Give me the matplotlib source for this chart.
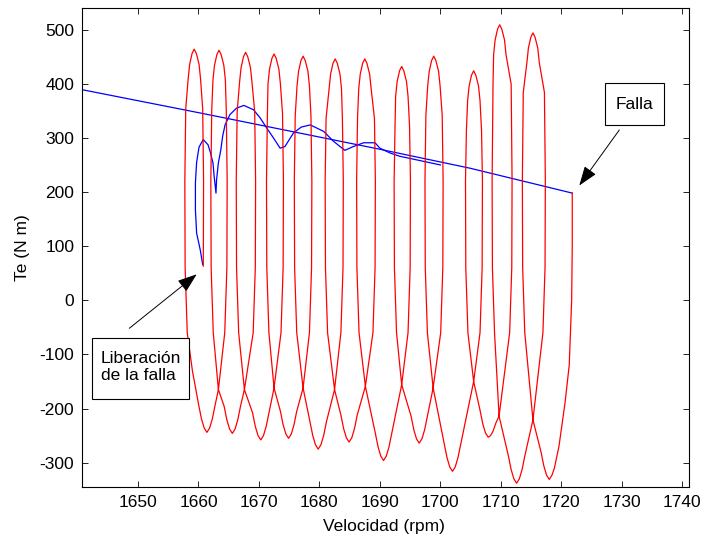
import matplotlib
matplotlib.use("Agg")
import matplotlib.pyplot as plt
from matplotlib.patches import Rectangle, FancyArrowPatch

plt.rcParams['font.family'] = ['Liberation Sans', 'DejaVu Sans']
plt.rcParams['font.size'] = 12.5
plt.rcParams['axes.unicode_minus'] = False

# Te (N m) vs speed (rpm): steady-state line before the fault
prefault_rpm = [1640.8, 1660.3, 1690.0, 1704.9, 1721.8]
prefault_te = [389, 346, 279, 244, 198]

# during the fault (red), from the fault instant down to the clearing point;
# one row per swing (trough -> peak -> next trough)
red_rpm = [
    1721.8, 1721.8, 1721.7, 1721.3, 1720.6, 1719.6, 1718.85, 1718.45, 1718.0,
    1717.55, 1717.1, 1716.65, 1715.3, 1713.95, 1713.6, 1713.55, 1713.7, 1714.3, 1714.55, 1714.95, 1715.3,
    1715.65, 1716.1, 1716.35, 1717.2, 1717.35, 1717.3, 1716.95, 1715.3, 1713.95, 1713.5, 1713.05, 1712.6,
    1712.15, 1711.7, 1711.25, 1709.7, 1708.95, 1708.6, 1708.55, 1708.7, 1708.8, 1709.05, 1709.45, 1709.8,
    1710.15, 1710.6, 1710.85, 1711.7, 1711.85, 1711.8, 1711.45, 1709.7, 1709.2, 1708.7, 1708.3, 1707.9,
    1707.45, 1707.0, 1706.55, 1705.5, 1704.55, 1704.2, 1704.15, 1704.3, 1704.5, 1704.75, 1705.15, 1705.5,
    1705.85, 1706.3, 1706.55, 1706.8, 1706.95, 1706.9, 1706.55, 1705.5, 1703.35, 1702.9, 1702.45, 1702.0,
    1701.55, 1701.1, 1700.65, 1698.8, 1697.85, 1697.5, 1697.45, 1697.6, 1697.9, 1698.15, 1698.55, 1698.9,
    1699.25, 1699.7, 1699.95, 1700.3, 1700.45, 1700.4, 1700.05, 1698.8, 1697.85, 1697.4, 1696.95, 1696.5,
    1696.05, 1695.6, 1695.15, 1693.6, 1692.75, 1692.4, 1692.35, 1692.5, 1692.6, 1692.85, 1693.25, 1693.6,
    1693.95, 1694.4, 1694.65, 1694.9, 1695.05, 1695.0, 1694.65, 1693.6, 1691.95, 1691.5, 1691.05, 1690.6,
    1690.15, 1689.7, 1689.25, 1687.6, 1686.55, 1686.2, 1686.15, 1686.3, 1686.5, 1686.75, 1687.15, 1687.5,
    1687.85, 1688.3, 1688.55, 1689.1, 1689.25, 1689.2, 1688.85, 1687.6, 1686.25, 1685.8, 1685.35, 1684.9,
    1684.45, 1684.0, 1683.55, 1682.5, 1681.35, 1681.0, 1680.95, 1681.1, 1681.6, 1681.85, 1682.25, 1682.6,
    1682.95, 1683.4, 1683.65, 1683.8, 1683.95, 1683.9, 1683.55, 1682.5, 1681.15, 1680.7, 1680.25, 1679.8,
    1679.35, 1678.9, 1678.45, 1677.3, 1676.25, 1675.9, 1675.85, 1676.0, 1676.3, 1676.55, 1676.95, 1677.3,
    1677.65, 1678.1, 1678.35, 1678.6, 1678.75, 1678.7, 1678.35, 1677.3, 1676.25, 1675.8, 1675.35, 1674.9,
    1674.45, 1674.0, 1673.55, 1672.5, 1671.65, 1671.3, 1671.25, 1671.4, 1671.5, 1671.75, 1672.15, 1672.5,
    1672.85, 1673.3, 1673.55, 1673.9, 1674.05, 1674.0, 1673.65, 1672.5, 1671.65, 1671.2, 1670.75, 1670.3,
    1669.85, 1669.4, 1668.95, 1667.6, 1666.65, 1666.3, 1666.25, 1666.4, 1666.8, 1667.05, 1667.45, 1667.8,
    1668.15, 1668.6, 1668.85, 1669.3, 1669.45, 1669.4, 1669.05, 1667.6, 1666.95, 1666.5, 1666.05, 1665.6,
    1665.15, 1664.7, 1664.25, 1663.3, 1662.45, 1662.1, 1662.05, 1662.2, 1662.4, 1662.65, 1663.05, 1663.4,
    1663.75, 1664.2, 1664.45, 1664.6, 1664.75, 1664.7, 1664.35, 1663.3, 1662.75, 1662.3, 1661.85, 1661.4,
    1660.95, 1660.5, 1660.05, 1659.0, 1658.15, 1657.8, 1657.75, 1657.9, 1658.3, 1658.55, 1658.95, 1659.3,
    1659.65, 1660.1, 1660.35, 1660.7, 1660.85, 1660.8,
]
red_te = [
    198, 100, 0, -120, -190, -270, -310, -323, -331,
    -323, -306, -281, -221, -60, 60, 220, 384, 439, 466, 486, 494,
    486, 466, 439, 384, 220, 60, -60, -221, -288, -313, -330, -338,
    -330, -313, -288, -214, -60, 60, 220, 399, 454, 481, 501, 509,
    501, 481, 454, 399, 220, 60, -60, -214, -226, -242, -250, -253,
    -245, -228, -203, -150, -60, 60, 220, 314, 369, 396, 416, 424,
    416, 396, 369, 314, 220, 60, -60, -150, -266, -291, -308, -316,
    -308, -291, -266, -162, -60, 60, 220, 341, 396, 423, 443, 451,
    443, 423, 396, 341, 220, 60, -60, -162, -214, -239, -256, -264,
    -256, -239, -214, -156, -60, 60, 220, 322, 377, 404, 424, 432,
    424, 404, 377, 322, 220, 60, -60, -156, -246, -271, -288, -296,
    -288, -271, -246, -159, -60, 60, 220, 336, 391, 418, 438, 446,
    438, 418, 391, 336, 220, 60, -60, -159, -212, -237, -254, -262,
    -254, -237, -212, -165, -60, 60, 220, 336, 391, 418, 438, 446,
    438, 418, 391, 336, 220, 60, -60, -165, -225, -250, -267, -275,
    -267, -250, -225, -162, -60, 60, 220, 341, 396, 423, 443, 451,
    443, 423, 396, 341, 220, 60, -60, -162, -205, -230, -247, -255,
    -247, -230, -205, -162, -60, 60, 220, 345, 400, 427, 447, 455,
    447, 427, 400, 345, 220, 60, -60, -162, -208, -233, -250, -258,
    -250, -233, -208, -165, -60, 60, 220, 348, 403, 430, 450, 458,
    450, 430, 403, 348, 220, 60, -60, -165, -196, -221, -238, -246,
    -238, -221, -196, -165, -60, 60, 220, 352, 407, 434, 454, 462,
    454, 434, 407, 352, 220, 60, -60, -165, -194, -219, -236, -244,
    -236, -219, -194, -130, -60, 60, 220, 354, 409, 436, 456, 464,
    456, 436, 409, 354, 220, 63,
]

# after clearing (blue), settling back onto the steady-state line
post_rpm = [
    1660.7, 1660.3, 1659.7, 1659.5, 1659.5, 1659.7, 1660.1, 1660.8, 1661.6, 1662.0,
    1662.4, 1662.6, 1662.9, 1663.0, 1663.3, 1663.7, 1664.0, 1664.4, 1665.2, 1666.3,
    1667.5, 1669.1, 1670.2, 1671.3, 1672.4, 1673.5, 1674.3, 1675.7, 1677.0, 1678.5,
    1680.7, 1682.3, 1684.2, 1685.6, 1687.3, 1689.2, 1690.0, 1691.7, 1693.3, 1695.0,
    1700.0,
]
post_te = [
    66, 93, 124, 167, 217, 255, 283, 297, 287, 272,
    254, 229, 198, 223, 254, 278, 303, 324, 343, 355,
    360, 352, 337, 318, 300, 281, 284, 309, 320, 324,
    312, 294, 277, 284, 291, 291, 281, 272, 266, 262,
    250,
]

W, H = 706, 542
fig = plt.figure(figsize=(W / 100, H / 100), dpi=100)
ax = fig.add_axes([82 / W, 1 - 487 / H, 607 / W, 479 / H])

ax.plot(prefault_rpm, prefault_te, color='#0000ff', lw=0.9)
ax.plot(post_rpm, post_te, color='#0000ff', lw=0.9)
ax.plot(red_rpm, red_te, color='#ff0000', lw=0.9)

ax.set_xlim(1640.75, 1741.1)
ax.set_ylim(-345, 540)
ax.set_xticks(range(1650, 1741, 10))
ax.set_yticks(range(-300, 501, 100))
ax.tick_params(direction='in', top=True, right=True, length=4.3, width=0.6,
               pad=5.5, labelsize=12.5)
for sp in ax.spines.values():
    sp.set_linewidth(0.8)

fig.text(383.5 / W, 1 - 526 / H, 'Velocidad (rpm)', ha='center', va='center')
fig.text(22 / W, 1 - 248 / H, 'Te (N m)', ha='center', va='center', rotation=90)


def fpos(px, py):
    return px / W, 1 - py / H


def textbox(x0, y0, x1, y1):
    fig.add_artist(Rectangle(fpos(x0, y1), (x1 - x0) / W, (y1 - y0) / H,
                             transform=fig.transFigure, facecolor='white',
                             edgecolor='black', lw=0.8))


def arrow(start, end):
    fig.add_artist(FancyArrowPatch(fpos(*start), fpos(*end),
                                   transform=fig.transFigure,
                                   arrowstyle='-|>,head_length=12,head_width=4.3',
                                   mutation_scale=1, color='black', lw=0.7,
                                   shrinkA=0, shrinkB=0))


textbox(605, 83, 664, 125)
fig.text(*fpos(634.5, 104), 'Falla', ha='center', va='center')
arrow((619.3, 130), (579.3, 185.5))

textbox(91.7, 337.7, 189, 399.3)
fig.text(*fpos(100.7, 367), 'Liberación\nde la falla', ha='left', va='center',
         linespacing=1.2)
arrow((129.3, 328.3), (196.7, 274.3))

fig.savefig('out.png', dpi=100)
